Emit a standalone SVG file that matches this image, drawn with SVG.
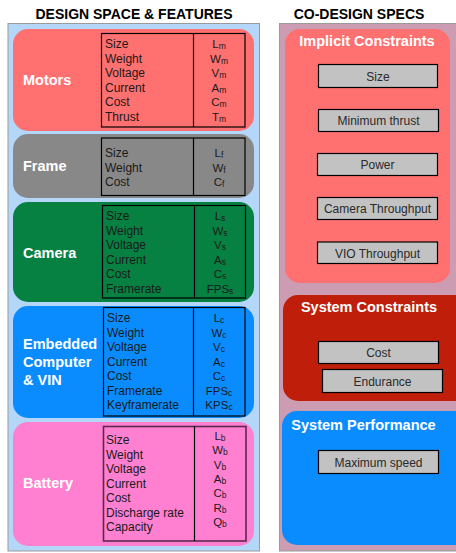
<svg xmlns="http://www.w3.org/2000/svg" width="456" height="553" viewBox="0 0 456 553">
<style>
text{font-family:"Liberation Sans",Arial,sans-serif}
.h{font-size:14px;font-weight:bold;fill:#000;text-anchor:middle}
.lab{font-size:14.5px;font-weight:bold;fill:#fff}
.row{font-size:12px;fill:#1a1a1a}
.val{font-size:11.5px;fill:#1a1a1a;text-anchor:middle}
.val tspan{font-size:8.5px}
.tbl{fill:none;stroke:#000;stroke-width:1.2}
.spec rect{fill:#c2c2c2;stroke:#000;stroke-width:1.2}
.spec text{font-size:12px;fill:#2a2a2a;text-anchor:middle}
</style>
<rect width="456" height="553" fill="#fff"/>
<text class="h" x="134" y="19">DESIGN SPACE &amp; FEATURES</text>
<text class="h" x="359" y="19">CO-DESIGN SPECS</text>
<rect x="8" y="23.5" width="251.5" height="527.5" fill="#b4d6f8" stroke="#9a9a9a" stroke-width="1"/>
<rect x="279.5" y="23.5" width="180" height="527.5" fill="#cc9db2" stroke="#9a9a9a" stroke-width="1"/>

<g id="motors">
<rect x="13" y="29" width="241" height="102" rx="15" fill="#ff7070"/>
<text class="lab" x="23" y="85">Motors</text>
<rect class="tbl" x="101.5" y="33.5" width="143.5" height="93.5"/>
<line class="tbl" x1="193.5" y1="33.5" x2="193.5" y2="127"/>
<text class="row" x="105"><tspan x="105" y="48">Size</tspan><tspan x="105" y="62.5">Weight</tspan><tspan x="105" y="77">Voltage</tspan><tspan x="105" y="91.5">Current</tspan><tspan x="105" y="106">Cost</tspan><tspan x="105" y="120.5">Thrust</tspan></text>
<text class="val" x="219" y="48">L<tspan dy="1">m</tspan></text>
<text class="val" x="219" y="62.5">W<tspan dy="1">m</tspan></text>
<text class="val" x="219" y="77">V<tspan dy="1">m</tspan></text>
<text class="val" x="219" y="91.5">A<tspan dy="1">m</tspan></text>
<text class="val" x="219" y="106">C<tspan dy="1">m</tspan></text>
<text class="val" x="219" y="120.5">T<tspan dy="1">m</tspan></text>
</g>

<g id="frame">
<rect x="13" y="134" width="241" height="64" rx="15" fill="#888888"/>
<text class="lab" x="23" y="171">Frame</text>
<rect class="tbl" x="101.5" y="138" width="143.5" height="57.5"/>
<line class="tbl" x1="193.5" y1="138" x2="193.5" y2="195.5"/>
<text class="row"><tspan x="105" y="157">Size</tspan><tspan x="105" y="171.5">Weight</tspan><tspan x="105" y="186">Cost</tspan></text>
<text class="val" x="219" y="157">L<tspan dy="1">f</tspan></text>
<text class="val" x="219" y="171.5">W<tspan dy="1">f</tspan></text>
<text class="val" x="219" y="186">C<tspan dy="1">f</tspan></text>
</g>

<g id="camera">
<rect x="13" y="202" width="241" height="100" rx="15" fill="#078141"/>
<text class="lab" x="23" y="258">Camera</text>
<rect class="tbl" x="102.5" y="205.5" width="143" height="92.5"/>
<line class="tbl" x1="194.5" y1="205.5" x2="194.5" y2="298"/>
<text class="row"><tspan x="106" y="220">Size</tspan><tspan x="106" y="234.5">Weight</tspan><tspan x="106" y="249">Voltage</tspan><tspan x="106" y="263.5">Current</tspan><tspan x="106" y="278">Cost</tspan><tspan x="106" y="292.5">Framerate</tspan></text>
<text class="val" x="220" y="220">L<tspan dy="1">s</tspan></text>
<text class="val" x="220" y="234.5">W<tspan dy="1">s</tspan></text>
<text class="val" x="220" y="249">V<tspan dy="1">s</tspan></text>
<text class="val" x="220" y="263.5">A<tspan dy="1">s</tspan></text>
<text class="val" x="220" y="278">C<tspan dy="1">s</tspan></text>
<text class="val" x="220" y="292.5">FPS<tspan dy="1">s</tspan></text>
</g>

<g id="computer">
<rect x="13" y="306" width="241" height="112" rx="15" fill="#0a8cff"/>
<text class="lab"><tspan x="23" y="349">Embedded</tspan><tspan x="23" y="367">Computer</tspan><tspan x="23" y="384.5">&amp; VIN</tspan></text>
<rect class="tbl" x="103.5" y="307.5" width="141.5" height="108.5"/>
<line class="tbl" x1="193.5" y1="307.5" x2="193.5" y2="416"/>
<text class="row"><tspan x="107" y="322">Size</tspan><tspan x="107" y="336.5">Weight</tspan><tspan x="107" y="351">Voltage</tspan><tspan x="107" y="365.5">Current</tspan><tspan x="107" y="380">Cost</tspan><tspan x="107" y="394.5">Framerate</tspan><tspan x="107" y="409">Keyframerate</tspan></text>
<text class="val" x="219" y="322">L<tspan dy="1">c</tspan></text>
<text class="val" x="219" y="336.5">W<tspan dy="1">c</tspan></text>
<text class="val" x="219" y="351">V<tspan dy="1">c</tspan></text>
<text class="val" x="219" y="365.5">A<tspan dy="1">c</tspan></text>
<text class="val" x="219" y="380">C<tspan dy="1">c</tspan></text>
<text class="val" x="219" y="394.5">FPS<tspan dy="1">c</tspan></text>
<text class="val" x="219" y="409">KPS<tspan dy="1">c</tspan></text>
</g>

<g id="battery">
<rect x="13" y="422" width="241" height="124" rx="15" fill="#ff80d0"/>
<text class="lab" x="23" y="487.5">Battery</text>
<rect x="103.5" y="426.5" width="142.5" height="114.5" fill="none" stroke="#5a2a4e" stroke-width="1.6"/>
<line x1="194.5" y1="426.5" x2="194.5" y2="541" stroke="#000" stroke-width="1.2"/>
<text class="row"><tspan x="106" y="444">Size</tspan><tspan x="106" y="458.5">Weight</tspan><tspan x="106" y="473">Voltage</tspan><tspan x="106" y="487.5">Current</tspan><tspan x="106" y="502">Cost</tspan><tspan x="106" y="516.5">Discharge rate</tspan><tspan x="106" y="531">Capacity</tspan></text>
<text class="val" x="220" y="440">L<tspan dy="1">b</tspan></text>
<text class="val" x="220" y="454.3">W<tspan dy="1">b</tspan></text>
<text class="val" x="220" y="468.6">V<tspan dy="1">b</tspan></text>
<text class="val" x="220" y="482.9">A<tspan dy="1">b</tspan></text>
<text class="val" x="220" y="497.2">C<tspan dy="1">b</tspan></text>
<text class="val" x="220" y="511.5">R<tspan dy="1">b</tspan></text>
<text class="val" x="220" y="525.8">Q<tspan dy="1">b</tspan></text>
</g>

<g id="implicit-constraints" class="spec">
<rect x="285" y="29" width="165" height="254" rx="15" style="fill:#ff7070;stroke:none"/>
<text x="367" y="46" style="text-anchor:middle;fill:#fff;font-size:14.5px;font-weight:bold">Implicit Constraints</text>
<rect x="318.5" y="64.5" width="119" height="23"/>
<text x="378" y="80.5">Size</text>
<rect x="318.5" y="109.5" width="120" height="22"/>
<text x="378.5" y="125">Minimum thrust</text>
<rect x="317.5" y="153.5" width="120" height="22"/>
<text x="377.5" y="169">Power</text>
<rect x="317.5" y="197.5" width="120" height="22"/>
<text x="377.5" y="213">Camera Throughput</text>
<rect x="317.5" y="242" width="120" height="21.5"/>
<text x="377.5" y="257.5">VIO Throughput</text>
</g>

<g id="system-constraints" class="spec">
<rect x="283" y="295" width="190" height="106" rx="15" style="fill:#bf1f0a;stroke:none"/>
<text x="369" y="312" style="text-anchor:middle;fill:#fff;font-size:14.5px;font-weight:bold">System Constraints</text>
<rect x="318.5" y="341.5" width="120" height="22"/>
<text x="378.5" y="357">Cost</text>
<rect x="322.5" y="369.5" width="120" height="23"/>
<text x="382.5" y="385.5">Endurance</text>
</g>

<g id="system-performance" class="spec">
<rect x="282" y="411" width="190" height="134" rx="15" style="fill:#0a8cff;stroke:none"/>
<text x="363.5" y="429.5" style="text-anchor:middle;fill:#fff;font-size:14.5px;font-weight:bold">System Performance</text>
<rect x="318.5" y="450.5" width="120" height="23"/>
<text x="378.5" y="466.5">Maximum speed</text>
</g>
<g id="connectors"/>
</svg>
